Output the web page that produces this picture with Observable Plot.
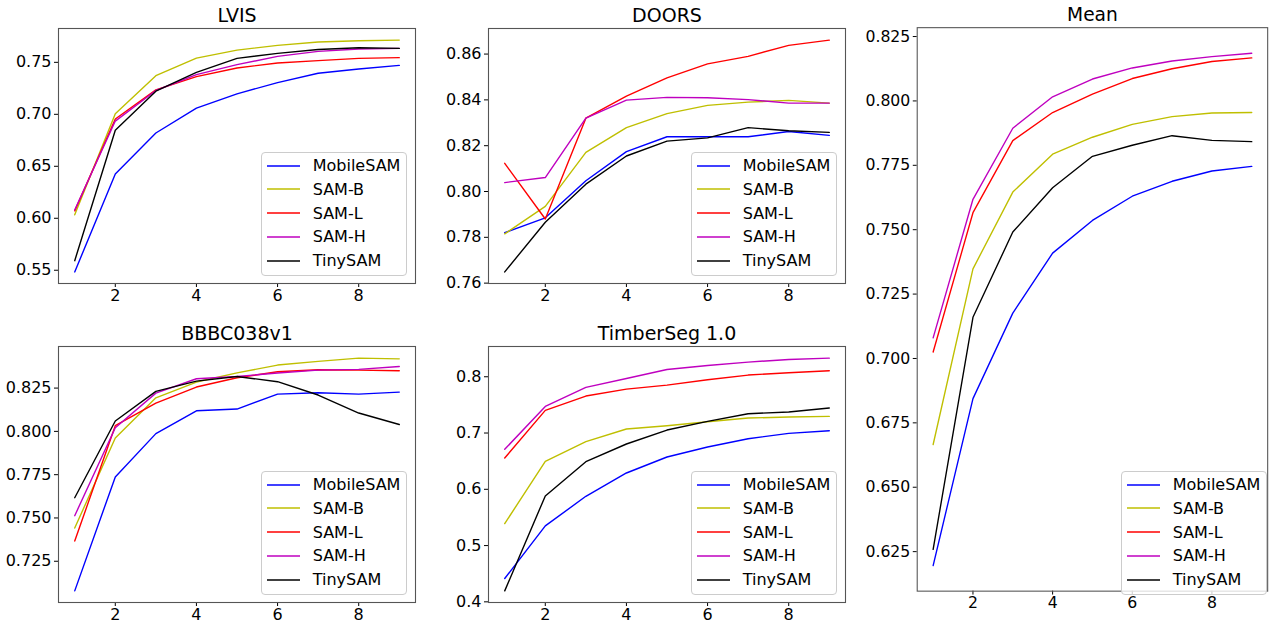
<!DOCTYPE html>
<html><head><meta charset="utf-8">
<script src="https://cdn.jsdelivr.net/npm/d3@7"></script>
<script src="https://cdn.jsdelivr.net/npm/@observablehq/plot@0.6"></script>
<style>
body{margin:0;background:#fff;font-family:"DejaVu Sans",sans-serif;}
#root{position:relative;width:1277px;height:624px;overflow:hidden;background:#fff;}
.panel{position:absolute;}
.legend{position:absolute;box-sizing:border-box;border:1px solid #cccccc;border-radius:4px;background:rgba(255,255,255,0.8);font-size:16px;color:#000;}
.legend .row{position:absolute;left:0;height:24px;display:flex;align-items:center;white-space:nowrap;}
</style></head><body><div id="root"></div>
<script>
const clicks = [1, 2, 3, 4, 5, 6, 7, 8, 9];
const models = ["MobileSAM", "SAM-B", "SAM-L", "SAM-H", "TinySAM"];
const colors = ["#0000ff", "#bfbf00", "#ff0000", "#bf00bf", "#000000"];
const xTicks = [2, 4, 6, 8];

// rows follow the order of `models`
const lvisValues = [
  [0.5484, 0.6425, 0.6820, 0.7060, 0.7197, 0.7305, 0.7395, 0.7436, 0.7471],
  [0.6033, 0.7006, 0.7372, 0.7541, 0.7618, 0.7663, 0.7695, 0.7707, 0.7714],
  [0.6071, 0.6955, 0.7235, 0.7363, 0.7446, 0.7494, 0.7516, 0.7538, 0.7545],
  [0.6080, 0.6935, 0.7229, 0.7382, 0.7478, 0.7557, 0.7605, 0.7628, 0.7634],
  [0.5592, 0.6846, 0.7222, 0.7404, 0.7538, 0.7586, 0.7624, 0.7640, 0.7634]
];
const doorsValues = [
  [0.7820, 0.7885, 0.8047, 0.8174, 0.8239, 0.8239, 0.8239, 0.8262, 0.8245],
  [0.7815, 0.7935, 0.8171, 0.8279, 0.8340, 0.8376, 0.8390, 0.8398, 0.8386],
  [0.8123, 0.7880, 0.8320, 0.8416, 0.8496, 0.8557, 0.8590, 0.8638, 0.8661],
  [0.8039, 0.8061, 0.8320, 0.8399, 0.8411, 0.8409, 0.8401, 0.8386, 0.8386],
  [0.7649, 0.7866, 0.8032, 0.8155, 0.8220, 0.8234, 0.8279, 0.8265, 0.8258]
];
const meanValues = [
  [0.6196, 0.6844, 0.7176, 0.7409, 0.7536, 0.7630, 0.7688, 0.7728, 0.7746],
  [0.6666, 0.7348, 0.7646, 0.7793, 0.7859, 0.7909, 0.7939, 0.7953, 0.7955],
  [0.7025, 0.7566, 0.7846, 0.7955, 0.8026, 0.8087, 0.8125, 0.8153, 0.8167],
  [0.7080, 0.7618, 0.7894, 0.8016, 0.8085, 0.8128, 0.8155, 0.8172, 0.8185],
  [0.6259, 0.7160, 0.7491, 0.7663, 0.7785, 0.7828, 0.7865, 0.7847, 0.7842]
];
const bbbcValues = [
  [0.7079, 0.7737, 0.7987, 0.8119, 0.8129, 0.8215, 0.8223, 0.8215, 0.8227],
  [0.7442, 0.7962, 0.8194, 0.8285, 0.8338, 0.8383, 0.8404, 0.8423, 0.8419],
  [0.7367, 0.8033, 0.8163, 0.8256, 0.8310, 0.8344, 0.8356, 0.8354, 0.8350],
  [0.7513, 0.8021, 0.8221, 0.8304, 0.8317, 0.8337, 0.8354, 0.8358, 0.8375],
  [0.7617, 0.8060, 0.8231, 0.8290, 0.8317, 0.8287, 0.8210, 0.8106, 0.8040]
];
const timberValues = [
  [0.4414, 0.5349, 0.5876, 0.6290, 0.6574, 0.6751, 0.6899, 0.6994, 0.7041],
  [0.5390, 0.6497, 0.6846, 0.7071, 0.7130, 0.7201, 0.7266, 0.7284, 0.7296],
  [0.6556, 0.7402, 0.7657, 0.7781, 0.7852, 0.7947, 0.8030, 0.8071, 0.8107],
  [0.6710, 0.7473, 0.7811, 0.7970, 0.8130, 0.8201, 0.8260, 0.8308, 0.8331],
  [0.4195, 0.5882, 0.6491, 0.6805, 0.7053, 0.7207, 0.7343, 0.7373, 0.7444]
];

const lvisTicks = [0.55, 0.60, 0.65, 0.70, 0.75];
const doorsTicks = [0.76, 0.78, 0.80, 0.82, 0.84, 0.86];
const meanTicks = [0.625, 0.650, 0.675, 0.700, 0.725, 0.750, 0.775, 0.800, 0.825];
const bbbcTicks = [0.725, 0.750, 0.775, 0.800, 0.825];
const timberTicks = [0.4, 0.5, 0.6, 0.7, 0.8];

const panels = [
  {title: "LVIS", values: lvisValues, ticks: lvisTicks, fmt: ".2f", box: [58, 415, 28, 283]},
  {title: "DOORS", values: doorsValues, ticks: doorsTicks, fmt: ".2f", box: [488, 845, 28, 283]},
  {title: "Mean", values: meanValues, ticks: meanTicks, fmt: ".3f", box: [918, 1275, 28, 602]},
  {title: "BBBC038v1", values: bbbcValues, ticks: bbbcTicks, fmt: ".3f", box: [58, 415, 346, 602]},
  {title: "TimberSeg 1.0", values: timberValues, ticks: timberTicks, fmt: ".1f", box: [488, 845, 346, 602]}
];

function pad(ext) {
  const m = (ext[1] - ext[0]) * 0.05;
  return [ext[0] - m, ext[1] + m];
}

const root = document.getElementById("root");
const ML = 70, MT = 45, MR = 10, MB = 35;

for (const p of panels) {
  const rows = [];
  p.values.forEach((vals, i) => vals.forEach((v, j) => rows.push({model: models[i], click: clicks[j], value: v})));
  const [fl, fr, ft, fb] = p.box;
  const fw = fr - fl, fh = fb - ft;
  const chart = Plot.plot({
    width: fw + ML + MR,
    height: fh + MT + MB,
    marginLeft: ML, marginRight: MR, marginTop: MT, marginBottom: MB,
    style: {fontSize: "16px", fontFamily: "DejaVu Sans, sans-serif", background: "transparent", color: "#000", overflow: "visible"},
    x: {domain: pad(d3.extent(clicks))},
    y: {domain: pad(d3.extent(rows, d => d.value))},
    color: {domain: models, range: colors},
    marks: [
      Plot.axisX({ticks: xTicks, tickSize: 4, tickPadding: 2, label: null, tickFormat: d3.format("d")}),
      Plot.axisY({ticks: p.ticks, tickSize: 4, tickPadding: 3, label: null, tickFormat: d3.format(p.fmt)}),
      Plot.line(rows, {x: "click", y: "value", z: "model", stroke: "model", strokeWidth: 1.4}),
      Plot.frame({stroke: "#555", strokeWidth: 1.1}),
      Plot.text([p.title], {frameAnchor: "top", lineAnchor: "middle", dy: -12.5, fontSize: 19, fill: "#000"})
    ]
  });
  const wrap = document.createElement("div");
  wrap.className = "panel";
  wrap.style.left = (fl - ML) + "px";
  wrap.style.top = (ft - MT) + "px";
  wrap.appendChild(chart);
  root.appendChild(wrap);

  // legend (lower right)
  const lg = document.createElement("div");
  lg.className = "legend";
  const lw = 146, lh = 124;
  lg.style.width = lw + "px";
  lg.style.height = lh + "px";
  lg.style.left = (fr - 8.3 - lw) + "px";
  lg.style.top = (fb - 7.4 - lh) + "px";
  models.forEach((m, i) => {
    const row = document.createElement("div");
    row.className = "row";
    row.style.top = (14 + i * 23.8 - 12 - 1) + "px";
    row.innerHTML = `<svg width="51" height="24" style="display:block"><line x1="5" x2="38" y1="12" y2="12" stroke="${colors[i]}" stroke-width="1.6"/></svg><span>${m}</span>`;
    lg.appendChild(row);
  });
  root.appendChild(lg);
}
</script>
</body></html>
